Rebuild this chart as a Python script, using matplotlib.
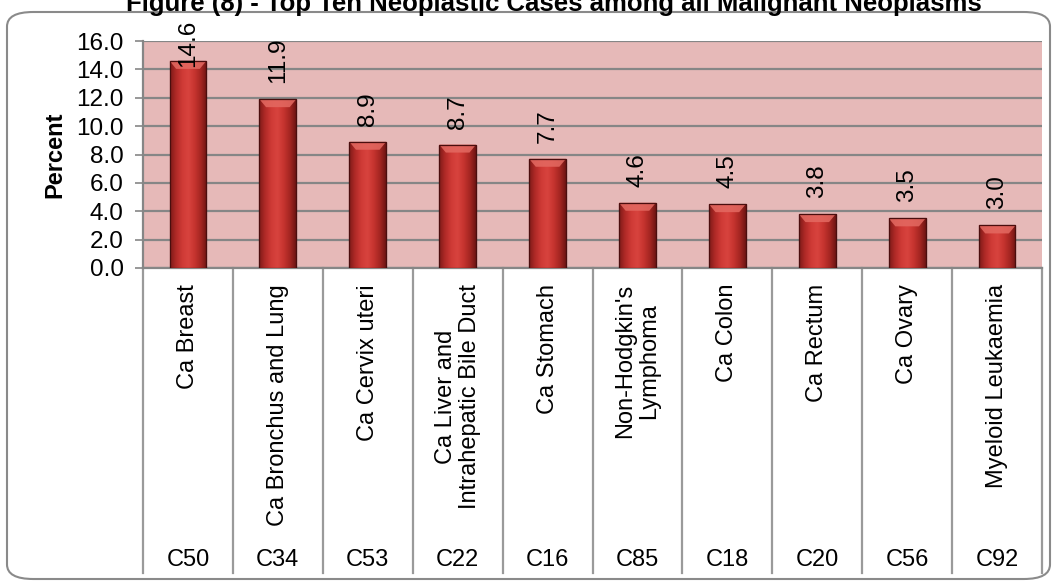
import numpy as np
import matplotlib
matplotlib.use("Agg")
import matplotlib.pyplot as plt
from matplotlib.patches import FancyBboxPatch, Polygon
from matplotlib.colors import LinearSegmentedColormap
import matplotlib.transforms as mtransforms

plt.rcParams['font.family'] = ['Liberation Sans', 'DejaVu Sans']

title = "Figure (8) - Top Ten Neoplastic Cases among all Malignant Neoplasms"
categories = ["Ca Breast", "Ca Bronchus and Lung", "Ca Cervix uteri",
              "Ca Liver and\nIntrahepatic Bile Duct", "Ca Stomach",
              "Non-Hodgkin's\nLymphoma", "Ca Colon", "Ca Rectum", "Ca Ovary",
              "Myeloid Leukaemia"]
codes = ["C50", "C34", "C53", "C22", "C16", "C85", "C18", "C20", "C56", "C92"]
values = [14.6, 11.9, 8.9, 8.7, 7.7, 4.6, 4.5, 3.8, 3.5, 3.0]
yticks = [0, 2, 4, 6, 8, 10, 12, 14, 16]

W, H = 1053, 581
fig = plt.figure(figsize=(W / 100, H / 100), dpi=100)
fig.patch.set_facecolor('white')

# rounded chart border
border = FancyBboxPatch((7 / W, (H - 579) / H), (1050 - 7) / W, (579 - 12) / H,
                        boxstyle="round,pad=0,rounding_size=0.025",
                        transform=fig.transFigure, facecolor='none',
                        edgecolor='#8a8a8a', linewidth=1.5, zorder=0)
fig.patches.append(border)

left, right, top, bottom = 143, 1042, 41, 268
ax = fig.add_axes([left / W, (H - bottom) / H, (right - left) / W, (bottom - top) / H])
ax.set_facecolor('#E6B9B8')
ax.set_xlim(-0.5, len(values) - 0.5)
ax.set_ylim(0, 16)
ax.set_yticks(yticks)
ax.set_yticklabels([f"{v:.1f}" for v in yticks], fontsize=17.5)
ax.yaxis.grid(True, color='#868686', linewidth=1.6)
ax.set_axisbelow(True)
ax.tick_params(axis='y', length=6, width=1.2, color='#868686', pad=8)
ax.tick_params(axis='x', length=0, labelbottom=False)
for s in ['top', 'right']:
    ax.spines[s].set_visible(False)
for s in ['left', 'bottom']:
    ax.spines[s].set_color('#868686')
    ax.spines[s].set_linewidth(1.6)

x = np.arange(len(values))
bw = 0.41
bars = ax.bar(x, values, width=bw, color='#C0302C', edgecolor='#5a1212',
              linewidth=0.8, zorder=3)

cmap = LinearSegmentedColormap.from_list(
    'barg', ['#7e1a18', '#b02a27', '#cf3a36', '#d8433e', '#c6342f', '#a52622', '#6e1513'])
grad = np.linspace(0, 1, 256).reshape(1, -1)
ppu = (bottom - top) / 16.0
for b, v in zip(bars, values):
    x0 = b.get_x()
    w = b.get_width()
    im = ax.imshow(grad, cmap=cmap, aspect='auto', extent=(x0, x0 + w, 0, v),
                   zorder=3.5, interpolation='bicubic')
    im.set_clip_path(b)
    bev = 8 / ppu
    inset = w * 0.18
    poly = Polygon([(x0, v), (x0 + w, v), (x0 + w - inset, v - bev), (x0 + inset, v - bev)],
                   closed=True, facecolor='#e46a62', edgecolor='none', alpha=0.85, zorder=3.6)
    ax.add_patch(poly)
    ax.add_patch(Polygon([(x0, 0), (x0 + w, 0), (x0 + w, v), (x0, v)],
                         closed=True, facecolor='none', edgecolor='#4a0e0e', linewidth=0.9, zorder=3.7))
ax.set_xlim(-0.5, len(values) - 0.5)
ax.set_ylim(0, 16)

# value labels
labels = []
for xi, v in zip(x, values):
    t = ax.annotate(f"{v:.1f}", (xi, v), xytext=(0, 11.5), textcoords='offset points',
                    rotation=90, ha='center', va='bottom', fontsize=17.5,
                    annotation_clip=False, zorder=5)
    labels.append(t)

# category table below axis
trans = mtransforms.blended_transform_factory(ax.transData, ax.transAxes)
ah = bottom - top
sep_bottom = -(573 - bottom) / ah
for b in np.arange(len(values) + 1) - 0.5:
    ax.plot([b, b], [0, sep_bottom], transform=trans, color='#9a9a9a',
            linewidth=1.6, clip_on=False, zorder=2)
for xi, c, code in zip(x, categories, codes):
    ax.text(xi, -(284 - bottom) / ah, c, transform=trans, rotation=90,
            ha='center', va='top', fontsize=17, linespacing=1.12,
            multialignment='center')
    ax.text(xi, -(560 - bottom) / ah, code, transform=trans, ha='center',
            va='center', fontsize=17)

fig.text(55 / W, 1 - 155 / H, "Percent", rotation=90, ha='center', va='center',
         fontsize=17, fontweight='bold')
fig.text(554 / W, 1 - 11 / H, title, ha='center', va='baseline', fontsize=18.5,
         fontweight='bold')

# keep value labels within the chart area
fig.canvas.draw()
r = fig.canvas.get_renderer()
for t in labels:
    bb = t.get_window_extent(r)
    limit = H - 20
    if bb.y1 > limit:
        dx, dy = t.xyann
        t.xyann = (dx, dy - (bb.y1 - limit) * 72 / 100)

fig.savefig("out.png", dpi=100)
